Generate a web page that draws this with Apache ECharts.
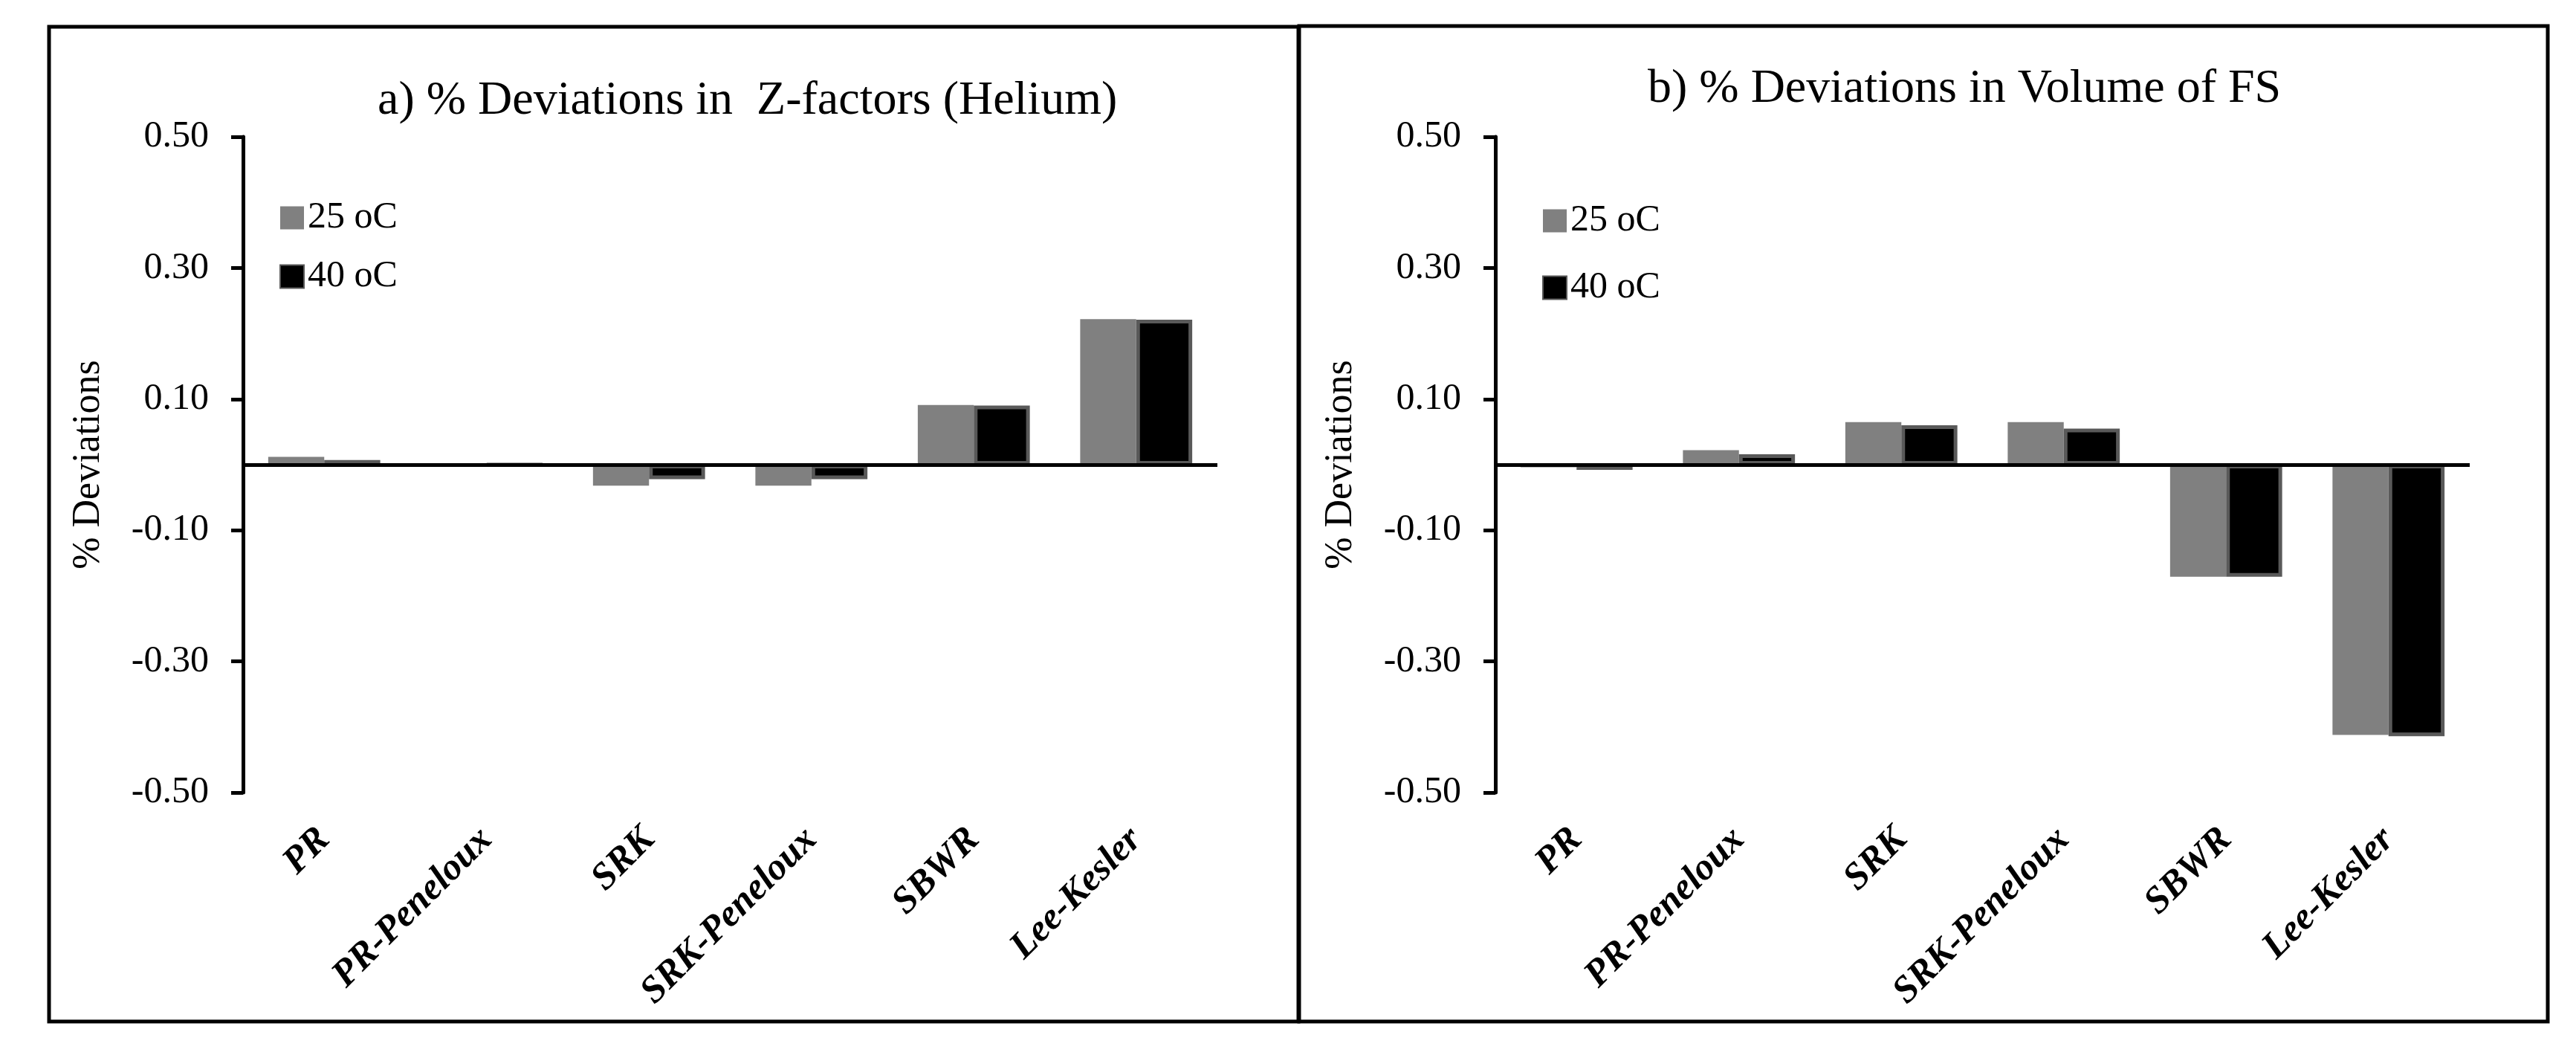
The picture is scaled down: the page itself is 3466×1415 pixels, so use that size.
<!DOCTYPE html>
<html>
<head>
<meta charset="utf-8">
<title>% Deviations</title>
<script src="https://cdn.jsdelivr.net/npm/echarts@6/dist/echarts.min.js"></script>
<style>
  html, body { margin: 0; padding: 0; background: #fff; }
  #main { width: 3466px; height: 1415px; }
</style>
</head>
<body>
<div id="main"></div>
<script>
    // categories (equations of state)
    var models = ['PR', 'PR-Peneloux', 'SRK', 'SRK-Peneloux', 'SBWR', 'Lee-Kesler'];
    var seriesNames = ['25 oC', '40 oC'];

    // a) % deviations in Z-factors (Helium)
    var zHe25 = [0.012, 0, -0.032, -0.032, 0.091, 0.222];
    var zHe40 = [0.007, 0, -0.022, -0.022, 0.090, 0.221];

    // b) % deviations in volume of FS
    var volFs25 = [-0.004, 0.022, 0.065, 0.065, -0.171, -0.412];
    var volFs40 = [-0.008, 0.016, 0.060, 0.055, -0.171, -0.414];

    var yTicks = [-0.5, -0.3, -0.1, 0.1, 0.3, 0.5];

    var font = 'Liberation Serif';
    var dom = document.getElementById('main');
    var myChart = echarts.init(dom);

    function xAxisOf(idx) {
        return {
            type: 'category',
            gridIndex: idx,
            data: models,
            axisLine: { show: false, onZero: false },
            axisTick: { show: false },
            axisLabel: {
                interval: 0,
                rotate: 45,
                margin: 56,
                color: '#000',
                fontFamily: font,
                fontStyle: 'italic',
                fontWeight: 'bold',
                fontSize: 51
            }
        };
    }

    function yAxisOf(idx) {
        return {
            type: 'value',
            gridIndex: idx,
            min: -0.5,
            max: 0.5,
            name: '% Deviations',
            nameLocation: 'middle',
            nameGap: 182,
            nameRotate: 90,
            nameTextStyle: { color: '#000', fontFamily: font, fontSize: 52 },
            axisLine: { show: true, lineStyle: { color: '#000', width: 5 } },
            axisTick: { show: true, length: 16, customValues: yTicks, lineStyle: { color: '#000', width: 5 } },
            axisLabel: {
                customValues: yTicks,
                margin: 46,
                color: '#000',
                fontFamily: font,
                fontSize: 50,
                formatter: function (v) { return v.toFixed(2); }
            },
            splitLine: { show: false }
        };
    }

    function barOf(name, data, idx, isWarm) {
        var s = {
            name: name,
            type: 'bar',
            xAxisIndex: idx,
            yAxisIndex: idx,
            data: data,
            barGap: '0%',
            barCategoryGap: '31%',
            itemStyle: isWarm
                ? { color: '#000000', borderColor: '#595959', borderWidth: 5 }
                : { color: '#808080' }
        };
        // zero line drawn with the later series so it sits over the bar borders
        if (isWarm) {
            s.markLine = {
                silent: true,
                symbol: 'none',
                label: { show: false },
                lineStyle: { color: '#000', width: 5, type: 'solid' },
                data: [{ yAxis: 0 }]
            };
        }
        return s;
    }

    var option = {
        backgroundColor: '#fff',
        animation: false,
        title: [
            {
                text: 'a) % Deviations in  Z-factors (Helium)',
                left: 508, top: 104, padding: 0,
                textStyle: { color: '#000', fontFamily: font, fontWeight: 'normal', fontSize: 64 }
            },
            {
                text: 'b) % Deviations in Volume of FS',
                left: 2217, top: 88, padding: 0,
                textStyle: { color: '#000', fontFamily: font, fontWeight: 'normal', fontSize: 64 }
            }
        ],
        legend: [
            {
                data: seriesNames,
                orient: 'vertical',
                left: 376, top: 268, padding: 0,
                itemWidth: 32, itemHeight: 31, itemGap: 29,
                icon: 'rect',
                textStyle: { color: '#000', fontFamily: font, fontSize: 50 }
            },
            {
                data: seriesNames,
                orient: 'vertical',
                left: 2075, top: 272, padding: 0,
                itemWidth: 32, itemHeight: 31, itemGap: 40,
                icon: 'rect',
                textStyle: { color: '#000', fontFamily: font, fontSize: 50 }
            }
        ],
        grid: [
            { left: 327, top: 184, width: 1311, height: 882 },
            { left: 2012, top: 184, width: 1311, height: 882 }
        ],
        xAxis: [xAxisOf(0), xAxisOf(1)],
        yAxis: [yAxisOf(0), yAxisOf(1)],
        series: [
            barOf(seriesNames[0], zHe25, 0, false),
            barOf(seriesNames[1], zHe40, 0, true),
            barOf(seriesNames[0], volFs25, 1, false),
            barOf(seriesNames[1], volFs40, 1, true)
        ],
        graphic: [
            { type: 'rect', shape: { x: 66, y: 36, width: 1681, height: 1338 }, style: { fill: 'none', stroke: '#000', lineWidth: 5 }, silent: true },
            { type: 'rect', shape: { x: 1748, y: 35, width: 1680, height: 1339 }, style: { fill: 'none', stroke: '#000', lineWidth: 5 }, silent: true }
        ]
    };

    if (option && typeof option === 'object') {
        myChart.setOption(option, true);
    }
</script>
</body>
</html>
